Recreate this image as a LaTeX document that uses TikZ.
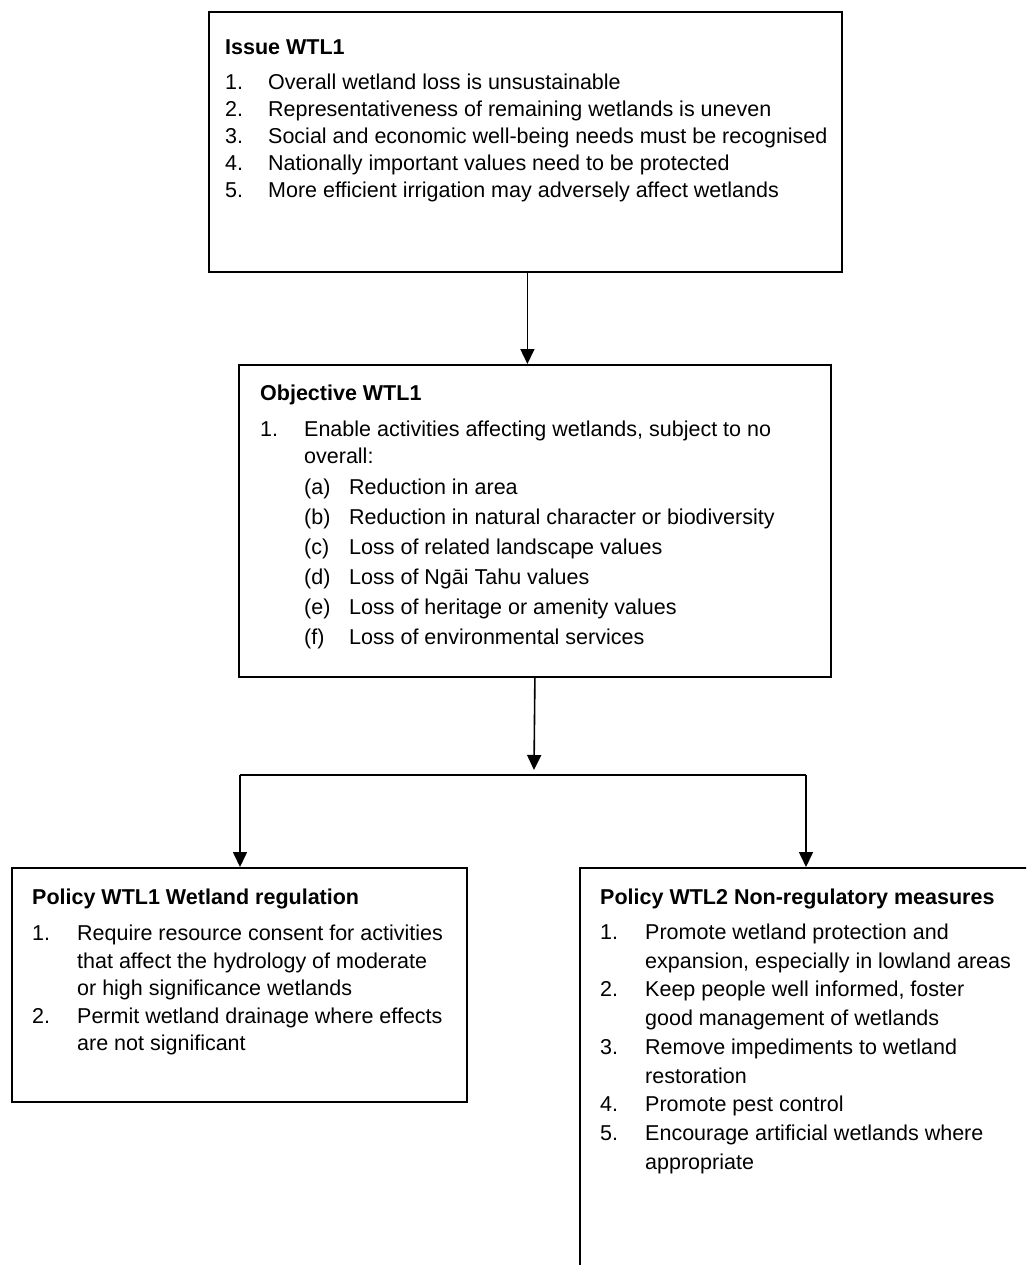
\documentclass[tikz,border=0pt]{standalone}
\usepackage{fontspec}
\setmainfont{Liberation Sans}
\usetikzlibrary{arrows.meta}
\newlength\numw
\newcommand{\numln}[2]{\makebox[\numw][l]{#1}#2\par}
\newcommand{\contln}[1]{\hspace*{\numw}#1\par}
\newcommand{\subln}[2]{\hspace*{\numw}\makebox[45pt][l]{#1}#2\par}
\tikzset{
  box/.style={draw=black, line width=1.8pt, rectangle, inner sep=0pt, anchor=north west},
  txt/.style={anchor=base west, inner sep=0pt, align=left},
  conn/.style={draw=black, line width=1.6pt},
  arr/.style={conn, -{Triangle[length=15pt,width=14pt]}},
}
\begin{document}
\begin{tikzpicture}[x=1pt,y=-1pt]
\useasboundingbox (0,0) rectangle (1026,1265);
\clip (0,0) rectangle (1026,1265);
\fill[white] (0,0) rectangle (1026,1265);

% boxes
\node[box, minimum width=633pt, minimum height=260pt] (issue) at (208,11) {};
\node[box, minimum width=592pt, minimum height=312pt] (obj) at (238,364) {};
\node[box, minimum width=455pt, minimum height=234pt] (pol1) at (11,867) {};
\node[box, minimum width=600pt, minimum height=600pt] (pol2) at (579,867) {};

% texts
\node[txt] (issuetxt) at (225,54.5) {\begin{minipage}[t]{610pt}%
\setlength\numw{43pt}\fontsize{21.5}{27}\selectfont\setlength\parskip{0pt}\lineskiplimit=-50pt\relax
\textbf{Issue WTL1}\par\vspace{8.5pt}
\numln{1.}{Overall wetland loss is unsustainable}
\numln{2.}{Representativeness of remaining wetlands is uneven}
\numln{3.}{Social and economic well-being needs must be recognised}
\numln{4.}{Nationally important values need to be protected}
\numln{5.}{More efficient irrigation may adversely affect wetlands}
\end{minipage}};

\node[txt] (objtxt) at (260,400.5) {\begin{minipage}[t]{565pt}%
\setlength\numw{44pt}\fontsize{21.5}{27}\selectfont\setlength\parskip{0pt}\lineskiplimit=-50pt\relax
\textbf{Objective WTL1}\par\vspace{8.5pt}
\numln{1.}{Enable activities affecting wetlands, subject to no}
\contln{overall:}\vspace{4.5pt}
\subln{(a)}{Reduction in area}\vspace{3pt}
\subln{(b)}{Reduction in natural character or biodiversity}\vspace{3pt}
\subln{(c)}{Loss of related landscape values}\vspace{3pt}
\subln{(d)}{Loss of Ngāi Tahu values}\vspace{3pt}
\subln{(e)}{Loss of heritage or amenity values}\vspace{3pt}
\subln{(f)}{Loss of environmental services}
\end{minipage}};

\node[txt] (pol1txt) at (32,904.5) {\begin{minipage}[t]{430pt}%
\setlength\numw{45pt}\fontsize{21.5}{27.5}\selectfont\setlength\parskip{0pt}\lineskiplimit=-50pt\relax
\textbf{Policy WTL1 Wetland regulation}\par\vspace{8.5pt}
\numln{1.}{Require resource consent for activities}
\contln{that affect the hydrology of moderate}
\contln{or high significance wetlands}
\numln{2.}{Permit wetland drainage where effects}
\contln{are not significant}
\end{minipage}};

\node[txt] (pol2txt) at (600,904.5) {\begin{minipage}[t]{430pt}%
\setlength\numw{45pt}\fontsize{21.5}{28.7}\selectfont\setlength\parskip{0pt}\lineskiplimit=-50pt\relax
\textbf{Policy WTL2 Non-regulatory measures}\par\vspace{6.3pt}
\numln{1.}{Promote wetland protection and}
\contln{expansion, especially in lowland areas}
\numln{2.}{Keep people well informed, foster}
\contln{good management of wetlands}
\numln{3.}{Remove impediments to wetland}
\contln{restoration}
\numln{4.}{Promote pest control}
\numln{5.}{Encourage artificial wetlands where}
\contln{appropriate}
\end{minipage}};

% connectors
\coordinate (isout) at ([xshift=2pt]issue.south);
\draw[arr] (isout) -- (isout |- obj.north);
\coordinate (jn) at (534,770);
\coordinate (hl) at (240,775);
\coordinate (hr) at (806,775);
\draw[arr] (obj.south) -- (jn);
\draw[conn] (hl) -- (hr);
\draw[arr] (hl) -- (hl |- pol1.north);
\draw[arr] (hr) -- (hr |- pol2.north);
\end{tikzpicture}
\end{document}
